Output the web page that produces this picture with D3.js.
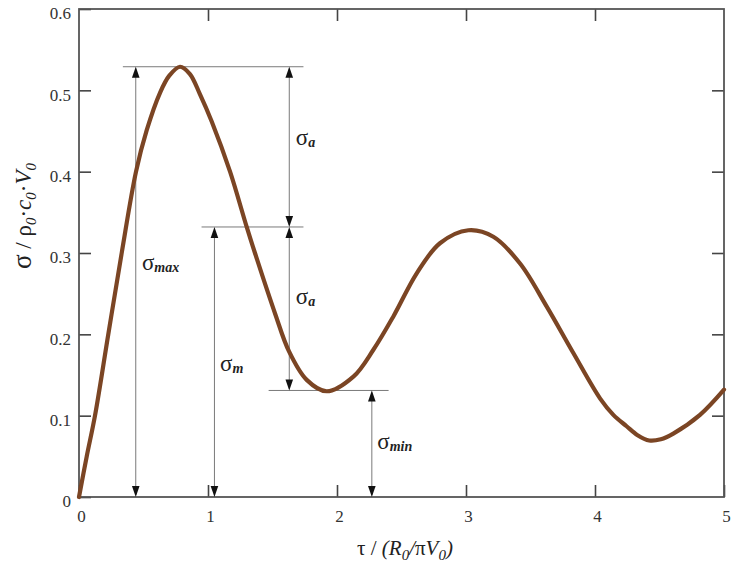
<!DOCTYPE html>
<html>
<head>
<meta charset="utf-8">
<script src="https://cdn.jsdelivr.net/npm/d3@7"></script>
<style>
  body { margin: 0; background: #fff; }
  text { font-family: "Liberation Serif", "DejaVu Serif", serif; }
</style>
</head>
<body>
<script>
//------------------------------ Data ------------------------------//
var tau = [0, 0.06, 0.124, 0.227, 0.331, 0.442, 0.525, 0.628, 0.70, 0.783, 0.86, 0.938, 1.028,
  1.171, 1.30, 1.364, 1.519, 1.628, 1.765, 1.92, 2.127, 2.282, 2.437, 2.618, 2.798, 3.018,
  3.212, 3.419, 3.626, 3.832, 4.04, 4.142, 4.245, 4.33, 4.42, 4.51, 4.607, 4.814, 5.0];
var sigma = [0, 0.05, 0.10, 0.20, 0.30, 0.40, 0.451, 0.497, 0.518, 0.529, 0.520, 0.495, 0.462,
  0.40, 0.332, 0.30, 0.226, 0.179, 0.144, 0.130, 0.148, 0.181, 0.222, 0.275, 0.312, 0.328,
  0.320, 0.287, 0.234, 0.177, 0.121, 0.101, 0.087, 0.076, 0.0695, 0.071, 0.078, 0.101, 0.132];

var xTicks = [0, 1, 2, 3, 4, 5];
var yTicks = [0, 0.1, 0.2, 0.3, 0.4, 0.5, 0.6];

// horizontal guide lines: level, from, to (tau)
var guideLevel = [0.529, 0.332, 0.131];
var guideFrom = [0.34, 0.95, 1.47];
var guideTo = [1.74, 1.74, 2.40];

// double arrows: tau position, low and high sigma
var arrowTau = [0.44, 1.63, 1.63, 1.05, 2.27];
var arrowLo = [0, 0.332, 0.131, 0, 0];
var arrowHi = [0.529, 0.529, 0.332, 0.332, 0.131];

// labels sigma_x
var labelSub = ["max", "a", "a", "m", "min"];
var labelTau = [0.488, 1.68, 1.68, 1.093, 2.312];
var labelSigma = [0.279, 0.433, 0.237, 0.155, 0.059];

//------------------------------ Setup ------------------------------//
var width = 736, height = 563;
var svg = d3.select("body").append("svg").attr("width", width).attr("height", height);

var x = d3.scaleLinear().domain([0, 5]).range([79, 724]);
var y = d3.scaleLinear().domain([0, 0.6]).range([497, 9]);

var serif = '"Liberation Serif", "DejaVu Serif", serif';

//------------------------------ Axes ------------------------------//
function styleAxis(g) {
  g.attr("font-family", null);
  g.select(".domain").remove();
  g.selectAll(".tick line").attr("stroke", "#444").attr("stroke-width", 1.6);
  g.selectAll(".tick text").attr("fill", "#333").style("font-size", "17px")
    .style("font-family", serif);
}

svg.append("g").attr("transform", "translate(79,0)")
  .call(d3.axisLeft(y).tickValues(yTicks).tickSize(-12).tickPadding(8)
    .tickFormat(function (d) { return d === 0 ? "0" : d3.format(".1f")(d); }))
  .call(styleAxis)
  .selectAll(".tick text").attr("dy", "0.58em");

svg.append("g").attr("transform", "translate(724,0)")
  .call(d3.axisRight(y).tickValues(yTicks.slice(1, 6)).tickSize(-12).tickFormat(""))
  .call(styleAxis);

svg.append("g").attr("transform", "translate(0,497)")
  .call(d3.axisBottom(x).tickValues(xTicks).tickSize(-12).tickPadding(13)
    .tickFormat(d3.format("d")))
  .call(styleAxis)
  .selectAll(".tick text").attr("dx", 2);

svg.append("g").attr("transform", "translate(0,9)")
  .call(d3.axisTop(x).tickValues(xTicks.slice(1, 5)).tickSize(-12).tickFormat(""))
  .call(styleAxis);

// frame
svg.append("rect")
  .attr("x", x(0)).attr("y", y(0.6))
  .attr("width", x(5) - x(0)).attr("height", y(0) - y(0.6))
  .attr("fill", "none").attr("stroke", "#555").attr("stroke-width", 1.8);

//------------------------------ Guides and arrows ------------------------------//
svg.append("g").selectAll("line")
  .data(guideLevel).enter().append("line")
  .attr("x1", function (d, i) { return x(guideFrom[i]); })
  .attr("x2", function (d, i) { return x(guideTo[i]); })
  .attr("y1", function (d) { return y(d); })
  .attr("y2", function (d) { return y(d); })
  .attr("stroke", "#7a7a7a").attr("stroke-width", 1);

var arrows = svg.append("g");
arrowTau.forEach(function (t, i) {
  var ax = x(t), yTop = y(arrowHi[i]), yBot = y(arrowLo[i]);
  arrows.append("line")
    .attr("x1", ax).attr("x2", ax).attr("y1", yTop + 2).attr("y2", yBot - 2)
    .attr("stroke", "#7a7a7a").attr("stroke-width", 1);
  // up head at top, down head at bottom
  arrows.append("path")
    .attr("d", "M" + ax + "," + yTop + "L" + (ax - 3.8) + "," + (yTop + 11) + "L" + (ax + 3.8) + "," + (yTop + 11) + "Z")
    .attr("fill", "#111");
  arrows.append("path")
    .attr("d", "M" + ax + "," + yBot + "L" + (ax - 3.8) + "," + (yBot - 11) + "L" + (ax + 3.8) + "," + (yBot - 11) + "Z")
    .attr("fill", "#111");
});

//------------------------------ Curve ------------------------------//
var line = d3.line()
  .x(function (d, i) { return x(tau[i]); })
  .y(function (d) { return y(d); })
  .curve(d3.curveCatmullRom.alpha(0.5));

svg.append("path")
  .datum(sigma)
  .attr("d", line)
  .attr("fill", "none")
  .attr("stroke", "#7b4524")
  .attr("stroke-width", 4.2)
  .attr("stroke-linejoin", "round")
  .attr("stroke-linecap", "round");

//------------------------------ Labels ------------------------------//
var labels = svg.append("g").selectAll("text")
  .data(labelSub).enter().append("text")
  .attr("x", function (d, i) { return x(labelTau[i]); })
  .attr("y", function (d, i) { return y(labelSigma[i]); })
  .attr("fill", "#222");
labels.append("tspan").style("font-size", "23px").text("σ");
labels.append("tspan").attr("dy", 2).style("font-size", "14px")
  .style("font-style", "italic").style("font-weight", "bold").text(function (d) { return d; });

// y title
var yTitle = svg.append("text")
  .attr("transform", "translate(31,216) rotate(-90)")
  .attr("text-anchor", "middle").attr("fill", "#222").style("font-size", "23px");
function part(el, s, italic, sub) {
  var t = el.append("tspan").text(s);
  if (italic) t.style("font-style", "italic");
  if (sub) t.attr("dy", 5).style("font-size", "15px");
  return t;
}
function unsub(el, s, italic) {
  var t = el.append("tspan").attr("dy", -5).text(s);
  if (italic) t.style("font-style", "italic");
  return t;
}
part(yTitle, "σ").style("font-size", "27px");
part(yTitle, " / ρ");
part(yTitle, "0", true, true);
unsub(yTitle, "·");
part(yTitle, "c", true);
part(yTitle, "0", true, true);
unsub(yTitle, "·");
part(yTitle, "V", true);
part(yTitle, "0", true, true);

// x title
var xTitle = svg.append("text")
  .attr("x", 405).attr("y", 555)
  .attr("text-anchor", "middle").attr("fill", "#222").style("font-size", "21px");
part(xTitle, "τ / ");
part(xTitle, "(R", true);
part(xTitle, "0", true, true);
unsub(xTitle, "/", true);
part(xTitle, "π");
part(xTitle, "V", true);
part(xTitle, "0", true, true);
unsub(xTitle, ")", true);
</script>
</body>
</html>
